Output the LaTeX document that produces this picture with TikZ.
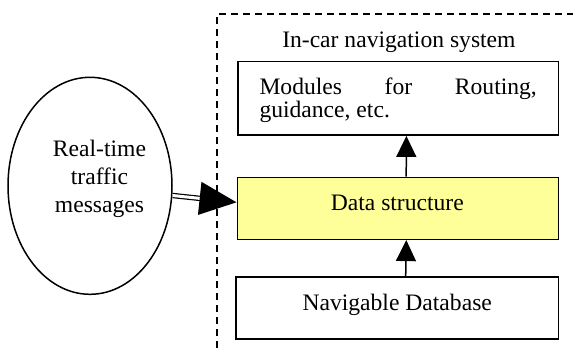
\documentclass[tikz,border=0pt]{standalone}
\usepackage{fontspec}
\setmainfont{Liberation Serif}
\usetikzlibrary{arrows.meta,shapes.geometric}
\definecolor{paleyellow}{HTML}{FFFF99}
\tikzset{
  box/.style={draw=black, line width=1.6pt, minimum width=320pt, inner sep=0pt},
  txt/.style={inner sep=0pt, font=\fontsize{23.6}{28.3}\selectfont},
  uparrow/.style={line width=1.5pt, -{Triangle[length=21pt,width=20pt]}},
  feed/.style={double, double distance=3pt, line width=1.2pt, -{Triangle[length=37pt,width=33pt]}},
  frame/.style={line width=1.3pt, dash pattern=on 7pt off 5pt}
}
\begin{document}
\begin{tikzpicture}[x=1pt, y=-1pt]
  \useasboundingbox (0,0) rectangle (573,349);

  % dashed system boundary (open to the right and bottom)
  \draw[frame] (217,360) -- (217,14) -- (580,14);
  \node[txt, anchor=base] (title) at (398.9,47) {In-car navigation system};

  % component boxes
  \node[box, minimum width=320.6pt, minimum height=73.5pt] (mod) at (398,98.4) {};
  \node[txt, anchor=base west] (modA) at (259.3,94.3) {\makebox[277.4pt][s]{Modules for Routing,}};
  \node[txt, anchor=base west] (modB) at (259.3,117.8) {guidance, etc.};

  \node[box, fill=paleyellow, minimum width=321pt, minimum height=62pt] (ds) at (397.8,208.3) {};
  \node[txt, anchor=base] (dsT) at (397.3,210.7) {Data structure};

  \node[box, minimum width=322.3pt, minimum height=62.3pt] (db) at (397.2,307.9) {};
  \node[txt, anchor=base] (dbT) at (397.2,310) {Navigable Database};

  % external source
  \node[draw=black, line width=1.5pt, ellipse, minimum width=164pt, minimum height=217pt, inner sep=0pt] (ext) at (90,185.8) {};
  \node[txt, align=center, anchor=base] (extT) at (99.5,212.7) {Real-time\\traffic\\messages};

  % connectors
  \draw[uparrow] ([xshift=8.4pt]ds.north) -- ([xshift=8.4pt]mod.south);
  \draw[uparrow] ([xshift=8.5pt]db.north) -- ([xshift=8.5pt]ds.south);
  \draw[feed] ([yshift=-9.7pt]ext.east) -- ([yshift=6pt]ds.west);
\end{tikzpicture}
\end{document}
